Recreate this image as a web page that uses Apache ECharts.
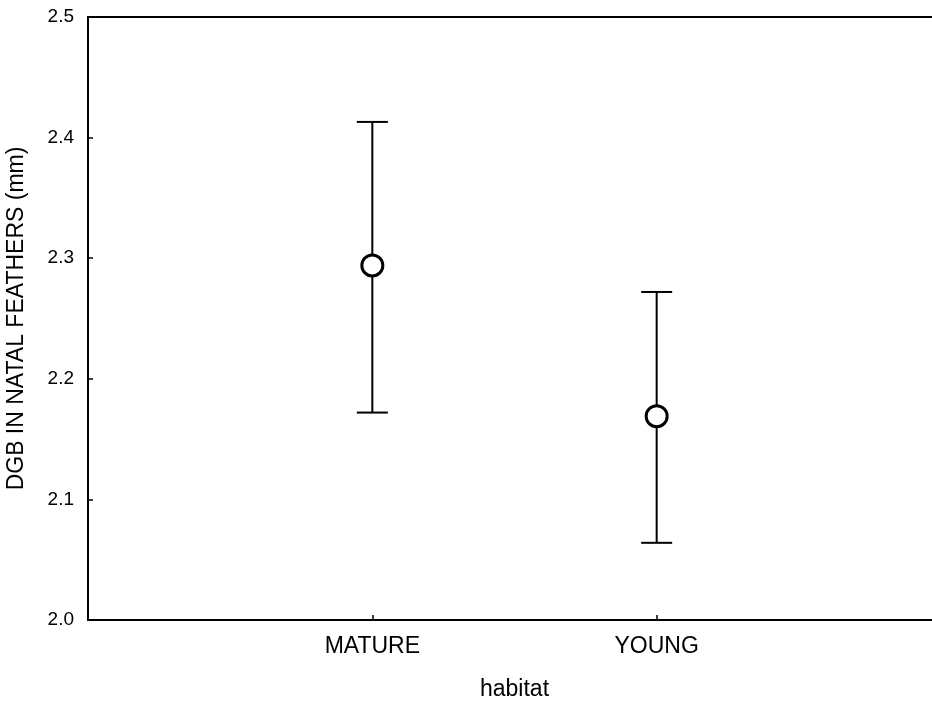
<!DOCTYPE html>
<html>
<head>
<meta charset="utf-8">
<script src="https://cdn.jsdelivr.net/npm/echarts@6/dist/echarts.min.js"></script>
<style>
html,body{margin:0;padding:0;background:#fff;}
#chart{width:932px;height:701px;}
</style>
</head>
<body>
<div id="chart"></div>
<script>
// Categories (slots 0 and 3 are empty padding positions of the x scale)
var categories = ['', 'MATURE', 'YOUNG', ''];
// Means and confidence limits per habitat
var habitats = ['MATURE', 'YOUNG'];
var means = [2.294, 2.169];
var lower = [2.172, 2.064];
var upper = [2.413, 2.272];
var yTicks = [2.0, 2.1, 2.2, 2.3, 2.4, 2.5];

var meanData = habitats.map(function (h, i) { return [h, means[i]]; });
var errData = habitats.map(function (h, i) { return [h, lower[i], upper[i]]; });

var chart = echarts.init(document.getElementById('chart'), null, {renderer: 'canvas'});
var font = 'Liberation Sans, Arial, sans-serif';
chart.setOption({
  animation: false,
  backgroundColor: '#ffffff',
  grid: {
    left: 88, top: 17, width: 853, height: 603,
    containLabel: false,
    outerBoundsMode: 'none',
    show: true, borderColor: '#000', borderWidth: 2, backgroundColor: 'transparent'
  },
  xAxis: {
    type: 'category',
    data: categories,
    boundaryGap: false,
    name: 'habitat',
    nameLocation: 'middle',
    nameGap: 58,
    nameTextStyle: {fontFamily: font, fontSize: 23, color: '#000'},
    axisLine: {lineStyle: {color: '#000', width: 2}},
    axisTick: {inside: true, length: 5, lineStyle: {color: '#000', width: 1.5}},
    axisLabel: {fontFamily: font, fontSize: 23, color: '#000', margin: 15, interval: 0},
    splitLine: {show: false}
  },
  yAxis: {
    type: 'value',
    min: 2.0, max: 2.5, interval: 0.1,
    name: 'DGB IN NATAL FEATHERS (mm)',
    nameLocation: 'middle',
    nameGap: 60,
    nameTextStyle: {fontFamily: font, fontSize: 23, color: '#000'},
    axisLine: {show: true, lineStyle: {color: '#000', width: 2}},
    axisTick: {show: true, inside: true, length: 5, lineStyle: {color: '#000', width: 1.5}},
    axisLabel: {fontFamily: font, fontSize: 19, color: '#000', margin: 14,
      formatter: function (v) { return v.toFixed(1); }},
    splitLine: {show: false}
  },
  series: [
    {
      type: 'custom',
      data: errData,
      encode: {x: 0, y: [1, 2]},
      z: 2,
      renderItem: function (params, api) {
        var x = api.value(0);
        var lo = api.coord([x, api.value(1)]);
        var hi = api.coord([x, api.value(2)]);
        var hw = 15.5;
        var st = {stroke: '#000', lineWidth: 2, fill: null};
        return {
          type: 'group',
          children: [
            {type: 'line', shape: {x1: hi[0], y1: hi[1], x2: lo[0], y2: lo[1]}, style: st},
            {type: 'line', shape: {x1: hi[0] - hw, y1: hi[1], x2: hi[0] + hw, y2: hi[1]}, style: st},
            {type: 'line', shape: {x1: lo[0] - hw, y1: lo[1], x2: lo[0] + hw, y2: lo[1]}, style: st}
          ]
        };
      }
    },
    {
      type: 'scatter',
      data: meanData,
      z: 3,
      symbol: 'circle',
      symbolSize: 21,
      itemStyle: {color: '#fff', borderColor: '#000', borderWidth: 3, opacity: 1}
    }
  ]
});
</script>
</body>
</html>
